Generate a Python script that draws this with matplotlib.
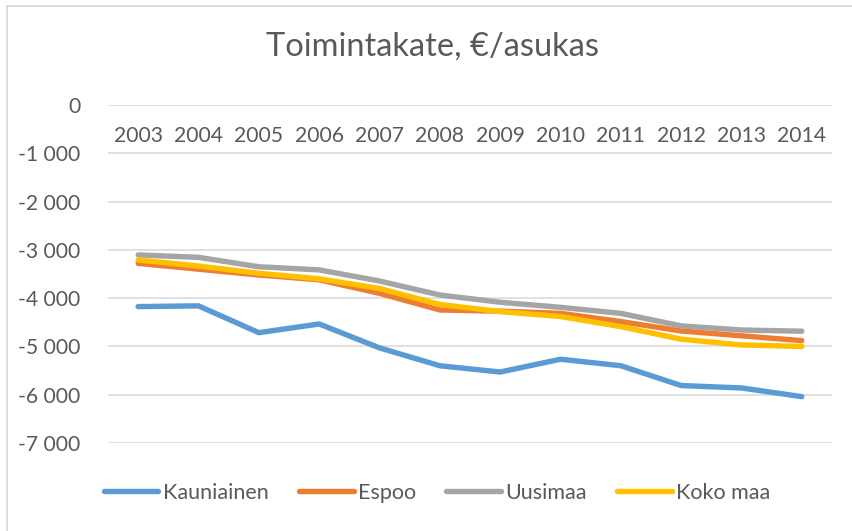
"""
Toimintakate per asukas 2003-2014: Kauniainen, Espoo, Uusimaa and Koko maa.
"""
import matplotlib

matplotlib.use("Agg")
import matplotlib.pyplot as plt
from matplotlib.lines import Line2D
from matplotlib.ticker import FuncFormatter

years = ["2003", "2004", "2005", "2006", "2007", "2008",
         "2009", "2010", "2011", "2012", "2013", "2014"]

kauniainen = [-4175, -4160, -4715, -4535, -5030, -5400,
              -5530, -5265, -5400, -5810, -5860, -6040]
espoo = [-3280, -3400, -3520, -3620, -3900, -4245,
         -4270, -4315, -4485, -4680, -4780, -4880]
uusimaa = [-3105, -3155, -3350, -3415, -3645, -3935,
           -4085, -4190, -4315, -4575, -4660, -4685]
koko_maa = [-3210, -3335, -3485, -3600, -3800, -4130,
            -4280, -4380, -4590, -4850, -4970, -5000]

series_names = ["Kauniainen", "Espoo", "Uusimaa", "Koko maa"]
colors = ["#5B9BD5", "#ED7D31", "#A5A5A5", "#FFC000"]
y_ticks = [0, -1000, -2000, -3000, -4000, -5000, -6000, -7000]

TEXT = "#595959"
GRID = "#D9D9D9"

plt.rcParams["font.family"] = ["Lato", "DejaVu Sans"]

fig = plt.figure(figsize=(8.52, 5.31), dpi=100)
ax = fig.add_axes([108 / 852, 1 - 443 / 531, (832 - 108) / 852, (443 - 105) / 531])

x = list(range(len(years)))
for vals, name, c in zip([kauniainen, espoo, uusimaa, koko_maa], series_names, colors):
    ax.plot(x, vals, color=c, lw=3.9, solid_capstyle="round",
            solid_joinstyle="round", label=name)

ax.set_xlim(-0.5, len(years) - 0.5)
ax.set_ylim(-7000, 0)
ax.set_yticks(y_ticks)
ax.yaxis.set_major_formatter(
    FuncFormatter(lambda v, _: f"{int(v):,}".replace(",", " ")))
ax.grid(axis="y", color=GRID, lw=1.1)
ax.set_axisbelow(True)
for s in ax.spines.values():
    s.set_visible(False)

ax.set_xticks(x)
ax.set_xticklabels(years)
ax.tick_params(axis="x", top=False, bottom=False, labeltop=True,
               labelbottom=False, pad=-33, labelsize=15.2, labelcolor=TEXT)
ax.tick_params(axis="y", left=False, pad=16.5, labelsize=15.2, labelcolor=TEXT)

fig.text(433 / 852, 1 - 47 / 531, "Toimintakate, €/asukas",
         ha="center", va="center", fontsize=23.5, color=TEXT)

fig.legend(loc="center", bbox_to_anchor=(437 / 852, 1 - 493 / 531), ncol=4,
           frameon=False, fontsize=15.5, labelcolor=TEXT, handlelength=2.55,
           handletextpad=0.2, columnspacing=1.4)

# chart area border (only top and left edges are inside the picture)
fig.add_artist(Line2D([7 / 852, 7 / 852], [0, 1 - 6 / 531],
                      color=GRID, lw=1.3, transform=fig.transFigure))
fig.add_artist(Line2D([7 / 852, 1], [1 - 6 / 531, 1 - 6 / 531],
                      color=GRID, lw=1.3, transform=fig.transFigure))

fig.savefig("out.png", dpi=100)
